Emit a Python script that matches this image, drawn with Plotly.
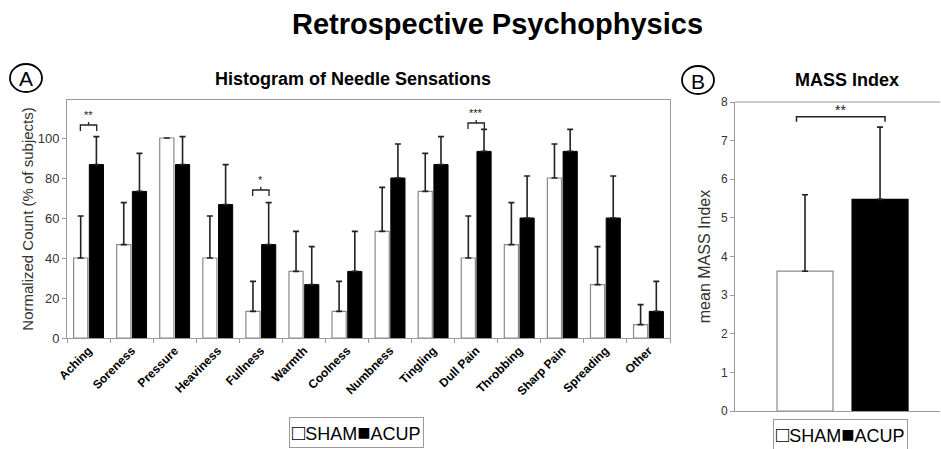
import plotly.graph_objects as go

# Panel A: needle sensations (% of subjects)
sensations = ["Aching", "Soreness", "Pressure", "Heaviness", "Fullness", "Warmth",
              "Coolness", "Numbness", "Tingling", "Dull Pain", "Throbbing",
              "Sharp Pain", "Spreading", "Other"]
sham_pct = [40, 46.7, 100, 40, 13.3, 33.3, 13.3, 53.3, 73.3, 40, 46.7, 80, 26.7, 6.7]
sham_err = [21, 21, 0, 21, 15, 20, 15, 22, 19, 21, 21, 17, 19, 10]
acup_pct = [86.7, 73.3, 86.7, 66.7, 46.7, 26.7, 33.3, 80, 86.7, 93.3, 60, 93.3, 60, 13.3]
acup_err = [14, 19, 14, 20, 21, 19, 20, 17, 14, 11, 21, 11, 21, 15]

# significance brackets on panel A: (category, stars, bracket height)
sig_a = [("Aching", "**", 106.5), ("Fullness", "*", 74), ("Dull Pain", "***", 107.5)]

# Panel B: MASS index
groups = ["SHAM", "ACUP"]
mass_mean = [3.62, 5.48]
mass_err = [1.98, 1.87]
sig_b = ("**", 7.62)

FONT = "Liberation Sans, Arial, sans-serif"
GRID = "#9a9a9a"
H, W = 449, 941


def py(px):
    # pixels from top -> paper y
    return 1 - px / H


fig = go.Figure()

fig.add_trace(go.Bar(
    x=sensations, y=sham_pct, name="SHAM",
    marker=dict(color="white", line=dict(color="#8a8a8a", width=1.2)),
    error_y=dict(type="data", array=sham_err, arrayminus=[0] * len(sham_err),
                 symmetric=False, color="#222", thickness=1.6, width=3),
    xaxis="x", yaxis="y"))
fig.add_trace(go.Bar(
    x=sensations, y=acup_pct, name="ACUP",
    marker=dict(color="black", line=dict(color="black", width=1)),
    error_y=dict(type="data", array=acup_err, arrayminus=[0] * len(acup_err),
                 symmetric=False, color="#222", thickness=1.6, width=3),
    xaxis="x", yaxis="y"))

# panel B bars, placed with explicit width/offset
b_offsets = [-0.295, 0.071]
b_colors = ["white", "black"]
b_lines = ["#8a8a8a", "black"]
for g, m, e, o, c, lc in zip(groups, mass_mean, mass_err, b_offsets, b_colors, b_lines):
    fig.add_trace(go.Bar(
        x=[0], y=[m], name=g, width=0.273, offset=o,
        marker=dict(color=c, line=dict(color=lc, width=1.2)),
        error_y=dict(type="data", array=[e], arrayminus=[0], symmetric=False,
                     color="#222", thickness=1.6, width=3),
        xaxis="x2", yaxis="y2"))

# brackets: offsets are the bar centres within a group
off = 0.19
for cat, stars, h in sig_a:
    i = sensations.index(cat)
    fig.add_shape(type="path", xref="x", yref="y",
                  path=f"M {i - off},{h - 3} L {i - off},{h} L {i + off},{h} L {i + off},{h - 3}",
                  line=dict(color="#222", width=1.3))
    fig.add_shape(type="line", xref="x", yref="y", x0=i, x1=i, y0=h, y1=h + 1.5,
                  line=dict(color="#222", width=1.3))
    fig.add_annotation(x=i, y=h + 0.8, xref="x", yref="y", text=stars, showarrow=False,
                       xanchor="center", yanchor="bottom",
                       font=dict(size=11, color="#222", family=FONT))

stars_b, hb = sig_b
fig.add_shape(type="path", xref="x2", yref="y2",
              path=f"M -0.2,{hb - 0.13} L -0.2,{hb} L 0.232,{hb} L 0.232,{hb - 0.13}",
              line=dict(color="#222", width=1.5))
fig.add_annotation(x=0.016, y=hb - 0.08, xref="x2", yref="y2", text=stars_b, showarrow=False,
                   xanchor="center", yanchor="bottom",
                   font=dict(size=14, color="#222", family=FONT))
# top line of panel B
fig.add_shape(type="line", xref="x2 domain", yref="y2 domain", x0=0, x1=1, y0=1, y1=1,
              line=dict(color=GRID, width=1))

# titles and panel letters
fig.add_annotation(x=498 / W, y=py(24), xref="paper", yref="paper",
                   xanchor="center", yanchor="middle",
                   text="<b>Retrospective Psychophysics</b>", showarrow=False,
                   font=dict(size=29, family=FONT, color="black"))
fig.add_annotation(x=353 / W, y=py(79), xref="paper", yref="paper",
                   xanchor="center", yanchor="middle",
                   text="<b>Histogram of Needle Sensations</b>", showarrow=False,
                   font=dict(size=18, family=FONT, color="black"))
fig.add_annotation(x=847 / W, y=py(80), xref="paper", yref="paper",
                   xanchor="center", yanchor="middle",
                   text="<b>MASS Index</b>", showarrow=False,
                   font=dict(size=18, family=FONT, color="black"))
for letter, cx, cy in (("A", 26, 78), ("B", 698, 80)):
    fig.add_annotation(x=cx / W, y=py(cy + 1), xref="paper", yref="paper",
                       xanchor="center", yanchor="middle",
                       text=letter, showarrow=False,
                       font=dict(size=21, family=FONT, color="black"))
    fig.add_shape(type="circle", xref="paper", yref="paper",
                  x0=(cx - 16) / W, x1=(cx + 16) / W, y0=py(cy + 14), y1=py(cy - 14),
                  line=dict(color="black", width=1.8))

# legends drawn as boxed text
legend_text = ("<span style='font-size:22px'>□</span>SHAM"
               "<span style='font-size:22px'>■</span>ACUP")
for cx, cy in ((356, 432), (840, 434)):
    fig.add_annotation(x=cx / W, y=py(cy), xref="paper", yref="paper",
                       xanchor="center", yanchor="middle",
                       text=legend_text, showarrow=False, bordercolor=GRID, borderwidth=1,
                       borderpad=2, font=dict(size=18, family=FONT, color="black"))

fig.update_layout(
    width=W, height=H,
    margin=dict(l=0, r=0, t=0, b=0, autoexpand=False),
    paper_bgcolor="white", plot_bgcolor="white",
    font=dict(family=FONT, color="#222"),
    barmode="group", bargap=0.27, bargroupgap=0.1,
    showlegend=False,
    xaxis=dict(domain=[67 / W, 670 / W], anchor="y", showline=True, mirror=True,
               linecolor=GRID, linewidth=1, ticks="outside", tickson="boundaries",
               ticklen=4, tickcolor=GRID, tickangle=-45, automargin=False,
               tickvals=sensations, ticktext=[f"<b>{s}</b>" for s in sensations],
               tickfont=dict(size=12, color="black", family=FONT), range=[-0.5, 13.5]),
    yaxis=dict(domain=[py(338), py(100)], anchor="x", range=[0, 119], automargin=False,
               tickvals=[0, 20, 40, 60, 80, 100], showline=True, mirror=True,
               linecolor=GRID, linewidth=1, ticks="outside", ticklen=4, tickcolor=GRID,
               showgrid=False, zeroline=False, tickfont=dict(size=13, color="#333"),
               title=dict(text="Normalized Count (% of subjects)",
                          font=dict(size=15, color="#333"), standoff=0)),
    xaxis2=dict(domain=[735 / W, 940 / W], anchor="y2", showline=True, linecolor=GRID,
                showticklabels=False, ticks="", range=[-0.5, 0.5], automargin=False),
    yaxis2=dict(domain=[py(411), py(102)], anchor="x2", range=[0, 8], automargin=False,
                dtick=1, showline=True, linecolor=GRID, ticks="outside", ticklen=4,
                tickcolor=GRID, showgrid=False, zeroline=False,
                tickfont=dict(size=12, color="#333"),
                title=dict(text="mean MASS Index", font=dict(size=16, color="#333"), standoff=6)),
)

# drop the browser's default page margin so the figure sits at the window corner
fig.write_html("out.html", config={"displayModeBar": False},
               post_script="document.body.style.margin='0px';")
